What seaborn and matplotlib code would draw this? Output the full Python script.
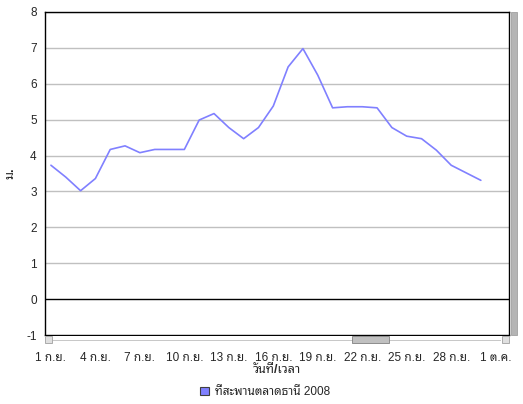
import numpy as np
import pandas as pd
import matplotlib
matplotlib.use("Agg")
import matplotlib.pyplot as plt
from matplotlib.patches import Rectangle, Patch
import seaborn as sns

# ---- data (water level, m) ----
days = list(range(1, 31))
level = [3.73, 3.40, 3.02, 3.36, 4.17, 4.27, 4.08, 4.17, 4.17, 4.17,
         4.99, 5.17, 4.78, 4.47, 4.78, 5.38, 6.47, 6.98, 6.24, 5.33,
         5.36, 5.36, 5.33, 4.78, 4.54, 4.47, 4.15, 3.73, 3.52, 3.31]
tick_days = [1, 4, 7, 10, 13, 16, 19, 22, 25, 28, 31]
tick_labels = ["1 ก.ย.", "4 ก.ย.", "7 ก.ย.", "10 ก.ย.", "13 ก.ย.", "16 ก.ย.",
               "19 ก.ย.", "22 ก.ย.", "25 ก.ย.", "28 ก.ย.", "1 ต.ค."]
series_name = "ที่สะพานตลาดธานี 2008"

df = pd.DataFrame({"day": days, "level": level})

sns.set_theme(style="white")
plt.rcParams['font.family'] = ['Liberation Sans', 'Noto Sans Thai Looped', 'DejaVu Sans']

W, H = 523, 404
fig = plt.figure(figsize=(W / 100, H / 100), dpi=100)
ax = fig.add_axes([45 / W, 1 - 335 / H, (509 - 45) / W, (335 - 12) / H])

line_col = "#8080ff"
sns.lineplot(data=df, x="day", y="level", ax=ax, color=line_col, linewidth=1.2)

ax.set_xlim(0.6, 31.9)
ax.set_ylim(-1, 8)
ax.set_yticks(range(-1, 9))
ax.set_yticklabels([str(v) for v in range(-1, 9)], fontsize=8.5)
ax.set_xticks(tick_days)
ax.set_xticklabels(tick_labels, fontsize=8.5)

for v in range(1, 9):
    ax.axhline(v, color="#c0c0c0", lw=1, zorder=0)
ax.axhline(0, color="black", lw=1, zorder=1)

for s in ax.spines.values():
    s.set_color("black")
    s.set_linewidth(1)

ax.tick_params(axis="y", direction="out", length=4, width=1, color="black", pad=2)
ax.tick_params(axis="x", direction="out", length=11, width=1, color="black", pad=1)

ax.set_xlabel("วันที่/เวลา", fontsize=9, fontweight="bold", labelpad=0)
ax.set_ylabel("ม.", fontsize=9, fontweight="bold")
ax.yaxis.set_label_coords(-0.062, 0.5)

# scrollbars (decoration)
def px_rect(x0, y0, x1, y1, **kw):
    fig.patches.append(Rectangle((x0 / W, 1 - y1 / H), (x1 - x0) / W, (y1 - y0) / H,
                                 transform=fig.transFigure, figure=fig, **kw))

px_rect(45, 336, 509, 344, facecolor="white", edgecolor="none", zorder=5)
px_rect(53, 339.5, 501, 340.5, facecolor="#c8c8c8", edgecolor="none", zorder=6)
px_rect(45, 336, 52, 343, facecolor="#e0e0e0", edgecolor="#a0a0a0", lw=0.6, zorder=6)
px_rect(502, 336, 509, 343, facecolor="#e0e0e0", edgecolor="#a0a0a0", lw=0.6, zorder=6)
px_rect(352, 336, 389, 343, facecolor="#c0c0c0", edgecolor="#808080", lw=0.6, zorder=6)
px_rect(511, 12, 517, 335, facecolor="#b4b4b4", edgecolor="#a0a0a0", lw=0.6, zorder=6)

handle = Patch(facecolor=line_col, edgecolor="#404040", linewidth=0.8)
fig.legend([handle], [series_name], loc="center", bbox_to_anchor=(265 / W, 1 - 392 / H),
           frameon=False, fontsize=8.5, handlelength=0.7, handleheight=0.7,
           handletextpad=0.5)

fig.savefig("out.png", dpi=100)
